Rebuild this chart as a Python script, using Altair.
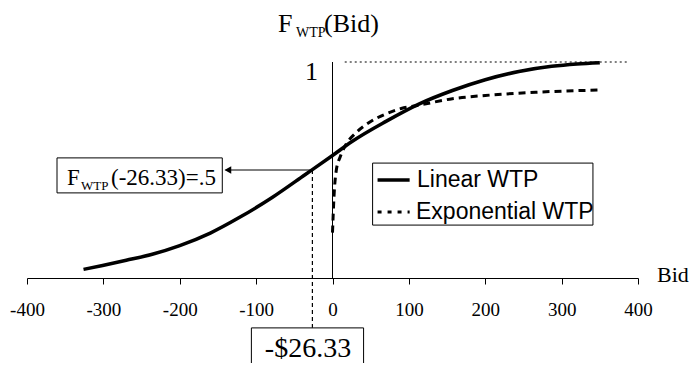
import altair as alt
import pandas as pd

# ---- data ----
linear_bid = [-326, -301, -270, -236, -200, -160, -121, -78, -36, 0, 26, 70, 113, 157, 200, 244, 287, 320, 350]
linear_f = [0.040, 0.058, 0.082, 0.110, 0.150, 0.208, 0.282, 0.375, 0.478, 0.567, 0.633, 0.725, 0.805, 0.868, 0.918, 0.956, 0.980, 0.991, 0.997]

exp_bid = [0, 2, 5, 10, 18, 30, 48, 70, 90, 113, 157, 200, 266, 348]
exp_f = [0.21, 0.38, 0.50, 0.56, 0.62, 0.67, 0.72, 0.76, 0.785, 0.80, 0.83, 0.845, 0.86, 0.87]

x_ticks = [-400, -300, -200, -100, 0, 100, 200, 300, 400]
median_bid = -26.33
median_f = 0.5

W, H = 611, 216
SERIF = "Liberation Serif"
SANS = "Liberation Sans"

xs = alt.Scale(domain=[-400, 400], nice=False, zero=False)
ys = alt.Scale(domain=[0, 1], nice=False, zero=False)
x_axis = alt.Axis(values=x_ticks, title=None, grid=False, labelFont=SERIF, labelFontSize=19,
                  labelColor="black", tickColor="black", domainColor="black", tickSize=6,
                  labelPadding=16, labelFlush=False, labelOverlap=False,
                  labelExpr="'' + datum.value")


def X(field, **kw):
    return alt.X(field, type="quantitative", scale=xs, axis=x_axis, **kw)


def Y(field, **kw):
    return alt.Y(field, type="quantitative", scale=ys, axis=None, **kw)


lin_df = pd.DataFrame({"bid": linear_bid, "F": linear_f})
exp_df = pd.DataFrame({"bid": exp_bid, "F": exp_f})

lin = alt.Chart(lin_df).mark_line(color="black", strokeWidth=3.5, interpolate="monotone", clip=False).encode(
    x=X("bid"), y=Y("F"))
expo = alt.Chart(exp_df).mark_line(color="black", strokeWidth=3, strokeDash=[7, 5], interpolate="monotone",
                                   clip=False).encode(x=X("bid"), y=Y("F"))

# y axis line at bid = 0
yaxis = alt.Chart(pd.DataFrame({"x": [0], "y": [0], "y2": [1]})).mark_rule(
    color="black", strokeWidth=1, clip=False).encode(x=X("x"), y=Y("y"), y2="y2")

# dotted line at F = 1
top = alt.Chart(pd.DataFrame({"x": [16], "x2": [387], "y": [1]})).mark_rule(
    color="black", strokeWidth=1, strokeDash=[2, 3], clip=False).encode(x=X("x"), x2="x2", y=Y("y"))

# vertical dashed line at median
vline = alt.Chart(pd.DataFrame({"x": [median_bid], "y": [median_f], "y2": [-0.23]})).mark_rule(
    color="black", strokeWidth=1.2, strokeDash=[4, 3], clip=False).encode(x=X("x"), y=Y("y"), y2="y2")

# horizontal arrow
arrow = alt.Chart(pd.DataFrame({"x": [median_bid], "x2": [-140], "y": [median_f]})).mark_rule(
    color="black", strokeWidth=1, clip=False).encode(x=X("x"), x2="x2", y=Y("y"))
head = alt.Chart(pd.DataFrame({"x": [-137], "y": [median_f]})).mark_point(
    shape="triangle-left", filled=True, color="black", size=60, opacity=1, clip=False).encode(x=X("x"), y=Y("y"))

# box for F_WTP(-26.33)=.5
box1 = alt.Chart(pd.DataFrame({"x": [-360.7], "x2": [-144.3], "y": [0.556], "y2": [0.394]})).mark_rect(
    fill="white", stroke="black", strokeWidth=1, clip=False).encode(x=X("x"), x2="x2", y=Y("y"), y2="y2")

# box for -$26.33
box2 = alt.Chart(pd.DataFrame({"x": [-106.2], "x2": [40.7], "y": [-0.231], "y2": [-0.6]})).mark_rect(
    fill="white", stroke="black", strokeWidth=1, clip=False).encode(x=X("x"), x2="x2", y=Y("y"), y2="y2")

# legend box
legbox = alt.Chart(pd.DataFrame({"x": [52.5], "x2": [341], "y": [0.532], "y2": [0.245]})).mark_rect(
    fill="white", stroke="black", strokeWidth=1, clip=False).encode(x=X("x"), x2="x2", y=Y("y"), y2="y2")
leg1 = alt.Chart(pd.DataFrame({"x": [59], "x2": [101], "y": [0.454]})).mark_rule(
    color="black", strokeWidth=3.5, clip=False).encode(x=X("x"), x2="x2", y=Y("y"))
leg2 = alt.Chart(pd.DataFrame({"x": [59], "x2": [101], "y": [0.306]})).mark_rule(
    color="black", strokeWidth=3, strokeDash=[4, 6], clip=False).encode(x=X("x"), x2="x2", y=Y("y"))


def txt(t, px, py, size, font=SERIF, align="left", baseline="alphabetic"):
    # px, py are absolute page pixel positions; convert to plot-relative
    return alt.Chart(pd.DataFrame({"t": [t]})).mark_text(
        font=font, fontSize=size, align=align, baseline=baseline, color="black").encode(
        x=alt.value(px - 27), y=alt.value(py - 62), text="t:N")


texts = [
    txt("F", 278, 32, 26),
    txt("WTP", 296, 37, 14),
    txt("(Bid)", 324, 32, 26),
    txt("1", 318, 80, 26, align="right"),
    txt("Bid", 657, 282, 22),
    txt("F", 67, 185, 23),
    txt("WTP", 81, 190, 13),
    txt("(-26.33)=.5", 111, 185, 23),
    txt("-$26.33", 308, 357, 28, align="center"),
    txt("Linear WTP", 417, 180, 23, font=SANS, baseline="middle"),
    txt("Exponential WTP", 416, 212, 23, font=SANS, baseline="middle"),
]

chart = alt.layer(
    yaxis, top, vline, arrow, head, box1, box2, expo, lin, legbox, leg1, leg2, *texts
).properties(
    width=W, height=H,
    padding={"left": 19, "top": 54, "right": 51, "bottom": 85},
    autosize=alt.AutoSizeParams(type="none"),
    background="white",
).configure_view(stroke=None).configure_axis(labelFont=SERIF)

chart.save("out.html", embed_options={"renderer": "svg", "actions": False})
